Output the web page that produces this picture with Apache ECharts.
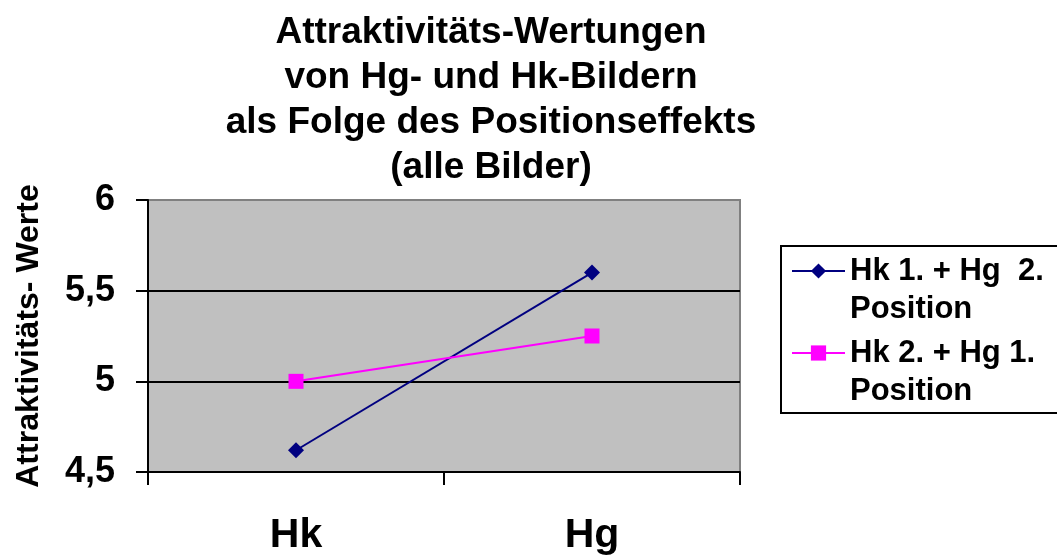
<!DOCTYPE html>
<html>
<head>
<meta charset="utf-8">
<script src="https://cdn.jsdelivr.net/npm/echarts@6/dist/echarts.min.js"></script>
<style>
  html, body { margin: 0; padding: 0; background: #fff; }
  #chart { width: 1057px; height: 556px; }
</style>
</head>
<body>
<div id="chart"></div>
<script>
// Kategorien (x-Achse) und Mittelwerte je Bedingung
const categories = ['Hk', 'Hg'];
const seriesNames = ['Hk 1. + Hg  2.\nPosition', 'Hk 2. + Hg 1.\nPosition'];
const hk1hg2 = [4.62, 5.6];
const hk2hg1 = [5.0, 5.25];
const yTicks = { min: 4.5, max: 6, interval: 0.5 };

const FONT = '"Liberation Sans", Arial, sans-serif';

const chart = echarts.init(document.getElementById('chart'), null, { renderer: 'canvas' });

chart.setOption({
  backgroundColor: '#ffffff',
  animation: false,
  title: {
    text: 'Attraktivitäts-Wertungen\nvon Hg- und Hk-Bildern\nals Folge des Positionseffekts\n(alle Bilder)',
    left: 491,
    top: 10,
    padding: 0,
    textAlign: 'center',
    textStyle: {
      fontFamily: FONT,
      fontSize: 37,
      fontWeight: 'bold',
      color: '#000',
      lineHeight: 45
    }
  },
  grid: {
    left: 148,
    top: 200,
    right: 317,
    bottom: 83,
    show: true,
    backgroundColor: '#c0c0c0',
    borderColor: '#808080',
    borderWidth: 2,
    containLabel: false
  },
  legend: {
    orient: 'vertical',
    left: 791,
    top: 214,
    padding: 0,
    itemWidth: 53,
    itemHeight: 19,
    itemGap: -32,
    selectedMode: false,
    // leere erste Zeile, damit das Symbol auf Höhe der ersten Textzeile steht
    formatter: name => '\u00a0\n' + name,
    textStyle: {
      fontFamily: FONT,
      fontSize: 31,
      fontWeight: 'bold',
      color: '#000',
      lineHeight: 38
    },
    data: seriesNames
  },
  graphic: [{
    type: 'rect',
    shape: { x: 781, y: 246, width: 300, height: 167 },
    style: { fill: 'none', stroke: '#000', lineWidth: 2 },
    silent: true,
    z: 10
  }],
  xAxis: {
    type: 'category',
    data: categories,
    boundaryGap: true,
    axisLine: { show: true, lineStyle: { color: '#000', width: 2 } },
    axisTick: { show: true, length: 13, lineStyle: { color: '#000', width: 2 } },
    axisLabel: {
      fontFamily: FONT,
      fontSize: 41,
      fontWeight: 'bold',
      color: '#000',
      margin: 43
    },
    splitLine: { show: false }
  },
  yAxis: {
    type: 'value',
    min: yTicks.min,
    max: yTicks.max,
    interval: yTicks.interval,
    name: 'Attraktivitäts- Werte',
    nameLocation: 'middle',
    nameGap: 103,
    nameRotate: 90,
    nameTextStyle: {
      fontFamily: FONT,
      fontSize: 32,
      fontWeight: 'bold',
      color: '#000'
    },
    axisLine: { show: true, lineStyle: { color: '#000', width: 2 } },
    axisTick: { show: true, length: 12, lineStyle: { color: '#000', width: 2 } },
    axisLabel: {
      fontFamily: FONT,
      fontSize: 36,
      fontWeight: 'bold',
      color: '#000',
      margin: 33,
      formatter: v => String(v).replace('.', ',')
    },
    splitLine: {
      show: true,
      showMinLine: false,
      showMaxLine: false,
      lineStyle: { color: '#000', width: 2 }
    }
  },
  series: [
    {
      name: seriesNames[0],
      type: 'line',
      data: hk1hg2,
      symbol: 'diamond',
      symbolSize: 16,
      color: '#000080',
      lineStyle: { color: '#000080', width: 2 },
      itemStyle: { color: '#000080' },
      z: 3
    },
    {
      name: seriesNames[1],
      type: 'line',
      data: hk2hg1,
      symbol: 'rect',
      symbolSize: 15,
      color: '#ff00ff',
      lineStyle: { color: '#ff00ff', width: 2 },
      itemStyle: { color: '#ff00ff' },
      z: 4
    }
  ]
});
</script>
</body>
</html>
